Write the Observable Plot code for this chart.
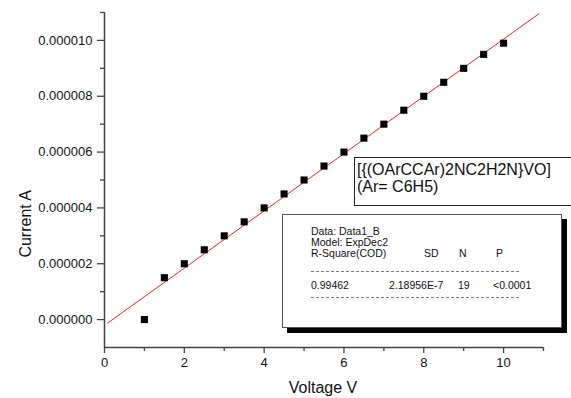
<!DOCTYPE html>
<html><head><meta charset="utf-8">
<script src="https://cdn.jsdelivr.net/npm/d3@7"></script>
<script src="https://cdn.jsdelivr.net/npm/@observablehq/plot@0.6"></script>
<style>
body{margin:0;background:#fff;font-family:Arial,"Liberation Sans",sans-serif;color:#111;}
#wrap{position:relative;width:571px;height:398px;overflow:hidden;}
#wrap svg{position:absolute;left:0;top:0;}
.abs{position:absolute;white-space:nowrap;}
#ylab{font-size:16px;line-height:16px;left:26px;top:190px;transform:translate(-100%,-50%) rotate(-90deg);transform-origin:100% 50%;}
#xlab{font-size:16px;line-height:16px;left:323px;top:380px;transform:translateX(-50%);}
#label{left:354px;top:157px;width:230px;height:47px;border:1px solid #222;background:#fff;font-size:16px;line-height:16.5px;padding:0;}
#label div{position:absolute;left:2px;}
#stats{left:282px;top:214px;width:278px;height:112px;border:1px solid #555;background:#fff;box-shadow:5px 5px 0 #000;font-size:10.5px;line-height:10.5px;}
#stats .abs{line-height:10.5px;}
.dash{position:absolute;left:28px;width:208px;height:0;border-top:1px dashed #777;}
</style></head><body><div id="wrap"></div>
<script>
// data
const voltage = [1, 1.5, 2, 2.5, 3, 3.5, 4, 4.5, 5, 5.5, 6, 6.5, 7, 7.5, 8, 8.5, 9, 9.5, 10];
const current = [0, 1.5e-6, 2.0e-6, 2.5e-6, 3.0e-6, 3.5e-6, 4.0e-6, 4.5e-6, 5.0e-6, 5.5e-6, 6.0e-6, 6.5e-6, 7.0e-6, 7.5e-6, 8.0e-6, 8.5e-6, 9.0e-6, 9.5e-6, 9.9e-6];
const fitVoltage = [0.083, 10.88];
const fitCurrent = [-0.12e-6, 10.95e-6];
const xMajorTicks = [0, 2, 4, 6, 8, 10];
const xMinorTicks = [1, 3, 5, 7, 9, 11];
const yMajorTicks = [0, 2e-6, 4e-6, 6e-6, 8e-6, 1e-5];
const yMinorTicks = [1e-6, 3e-6, 5e-6, 7e-6, 9e-6, 1.1e-5];
const xTitle = "Voltage V";
const yTitle = "Current A";
const compoundLines = ["[{(OArCCAr)2NC2H2N}VO]", "(Ar= C6H5)"];
const statsInfo = ["Data: Data1_B", "Model: ExpDec2"];
const statsHeader = ["R-Square(COD)", "SD", "N", "P"];
const statsValues = ["0.99462", "2.18956E-7", "19", "<0.0001"];

const points = voltage.map((v, i) => ({v, c: current[i]}));
const fit = fitVoltage.map((v, i) => ({v, c: fitCurrent[i]}));
const axisColor = "#444";

const chart = Plot.plot({
  width: 571, height: 398,
  marginLeft: 104, marginRight: 28, marginTop: 12, marginBottom: 51,
  style: {fontFamily: "Arial, 'Liberation Sans', sans-serif", fontSize: "13px", color: "#111", background: "transparent"},
  x: {domain: [0, 11], label: null},
  y: {domain: [-1e-6, 1.1e-5], label: null},
  marks: [
    Plot.ruleX([0], {stroke: axisColor, strokeWidth: 1.5}),
    Plot.ruleY([-1e-6], {stroke: axisColor, strokeWidth: 1.5}),
    Plot.axisX({ticks: xMajorTicks, tickSize: 6, tickPadding: 4, stroke: axisColor, strokeWidth: 1.3, tickFormat: d3.format("d"), fontSize: 13}),
    Plot.axisX({ticks: xMinorTicks, tickSize: 4, text: null, stroke: axisColor, strokeWidth: 1.3}),
    Plot.axisY({ticks: yMajorTicks, tickSize: 7, tickPadding: 5, stroke: axisColor, strokeWidth: 1.3, tickFormat: d3.format(".6f"), fontSize: 13}),
    Plot.axisY({ticks: yMinorTicks, tickSize: 4, text: null, stroke: axisColor, strokeWidth: 1.3}),
    Plot.line(fit, {x: "v", y: "c", stroke: "#ff2020", strokeWidth: 1}),
    Plot.dot(points, {x: "v", y: "c", symbol: "square", r: 4, fill: "#000", stroke: "none"})
  ]
});
const wrap = document.getElementById("wrap");
wrap.appendChild(chart);

function el(cls, text, styles, parent) {
  const d = document.createElement("div");
  d.className = cls;
  if (text != null) d.textContent = text;
  Object.assign(d.style, styles || {});
  (parent || wrap).appendChild(d);
  return d;
}
el("abs", yTitle).id = "ylab";
el("abs", xTitle).id = "xlab";

const label = el("abs", null); label.id = "label";
compoundLines.forEach((t, i) => el("abs", t, {top: (4 + i * 16.5) + "px"}, label));

const stats = el("abs", null); stats.id = "stats";
statsInfo.forEach((t, i) => el("abs", t, {left: "28px", top: (11 + i * 11) + "px"}, stats));
const headerX = [28, 141, 176, 213];
statsHeader.forEach((t, i) => el("abs", t, {left: headerX[i] + "px", top: "33px"}, stats));
el("dash", null, {top: "56px"}, stats);
const valueX = [28, 106, 175, 210];
statsValues.forEach((t, i) => el("abs", t, {left: valueX[i] + "px", top: "65px"}, stats));
el("dash", null, {top: "82px"}, stats);
</script>
</body></html>
